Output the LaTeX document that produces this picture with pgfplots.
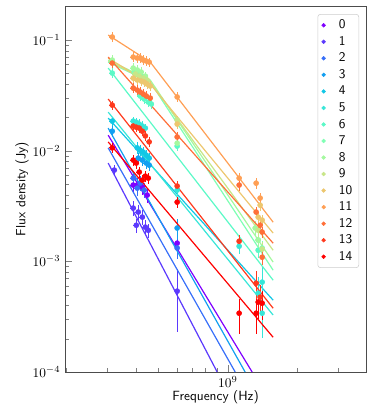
\documentclass[border=0pt]{standalone}
\usepackage{pgfplots}
\pgfplotsset{compat=1.18}

\definecolor{c0}{RGB}{127,0,255}
\definecolor{c1}{RGB}{91,57,253}
\definecolor{c2}{RGB}{55,111,249}
\definecolor{c3}{RGB}{18,159,241}
\definecolor{c4}{RGB}{18,199,230}
\definecolor{c5}{RGB}{55,230,216}
\definecolor{c6}{RGB}{91,249,199}
\definecolor{c7}{RGB}{127,255,180}
\definecolor{c8}{RGB}{164,249,159}
\definecolor{c9}{RGB}{200,230,136}
\definecolor{c10}{RGB}{237,199,111}
\definecolor{c11}{RGB}{255,159,84}
\definecolor{c12}{RGB}{255,111,57}
\definecolor{c13}{RGB}{255,57,29}
\definecolor{c14}{RGB}{255,0,0}
% legend entry: taller row, text moved right
\newcommand{\ls}[1]{\hspace*{8pt}\rule[-2.5pt]{0pt}{9.4pt}#1}

\pgfplotsset{
  pts/.style={only marks, mark=*, mark size=1.9pt, color=#1, forget plot,
    error bars/y dir=both, error bars/y explicit relative,
    error bars/x dir=both, error bars/x explicit relative,
    error bars/error mark=none,
    error bars/error bar style={line width=0.8pt, #1}},
  fit/.style={#1, line width=0.9pt, forget plot},
  dot/.style={only marks, mark=*, mark size=1.4pt, color=#1},
}

\begin{document}
\begin{tikzpicture}
\begin{axis}[
  name=ax, scale only axis, width=225.75pt, height=274.5pt,
  xmode=log, ymode=log,
  xmin=1.97e8, xmax=3.97e9, ymin=1e-4, ymax=0.203,
  xtick={1e9}, minor xtick={2e8,3e8,4e8,5e8,6e8,7e8,8e8,9e8,2e9,3e9},
  xtick pos=bottom, ytick pos=left, tick align=inside,
  major tick length=5pt, minor tick length=3pt,
  axis line style={black!70},
  xlabel={\sffamily Frequency (Hz)}, ylabel={\sffamily Flux density (Jy)},
  xlabel style={at={(axis description cs:0.5,-0.068)}, anchor=center},
  ylabel style={at={(axis description cs:-0.143,0.5)}, anchor=center},
  legend cell align=left,
  legend style={at={(0.977,0.978)}, anchor=north east, draw=black!20,
    rounded corners=2pt, font=\sffamily},
]
% 0
\addplot[pts=c0] coordinates {(3.89e8,0.00489)+-(0.03,0.15) (4.05e8,0.00489)+-(0.03,0.15) (4.26e8,0.00469)+-(0.03,0.15) (4.47e8,0.00397)+-(0.03,0.15) (6.03e8,0.00146)+-(0.02,0.12)};
\addplot[fit=c0] coordinates {(3.03e8,0.0138) (1.274e9,1e-4)};
% 1
\addplot[pts=c1] coordinates {(3.22e8,0.00668)+-(0.03,0.12) (3.89e8,0.00303)+-(0.03,0.15) (4.01e8,0.00212)+-(0.03,0.15) (4.09e8,0.00279)+-(0.03,0.15) (4.26e8,0.00251)+-(0.03,0.15) (4.39e8,0.00204)+-(0.03,0.15) (4.52e8,0.00191)+-(0.03,0.15) (6.03e8,0.000538)+-(0.02,0.57)};
\addplot[fit=c1] coordinates {(3.03e8,0.00773) (8.99e8,1e-4)};
% 2
\addplot[pts=c2] coordinates {(3.89e8,0.00565)+-(0.03,0.15) (4.05e8,0.00459)+-(0.03,0.15) (4.17e8,0.00509)+-(0.03,0.15) (4.34e8,0.00441)+-(0.03,0.15) (6.03e8,0.00132)+-(0.02,0.2)};
\addplot[fit=c2] coordinates {(3.03e8,0.0106) (1.076e9,1e-4)};
% 3
\addplot[pts=c3] coordinates {(3.155e8,0.0150)+-(0.03,0.12) (4.09e8,0.00857)+-(0.03,0.12) (4.26e8,0.00822)+-(0.03,0.12) (4.43e8,0.00773)+-(0.03,0.12) (4.56e8,0.00741)+-(0.03,0.12) (6.03e8,0.0020)+-(0.02,0.2)};
\addplot[fit=c3] coordinates {(3.03e8,0.0160) (1.188e9,1e-4)};
% 4
\addplot[pts=c4] coordinates {(3.155e8,0.0185)+-(0.03,0.1) (4.05e8,0.0106)+-(0.03,0.12) (4.17e8,0.0101)+-(0.03,0.12) (4.30e8,0.00971)+-(0.03,0.12) (4.43e8,0.00912)+-(0.03,0.12) (4.56e8,0.00857)+-(0.03,0.12)};
\addplot[fit=c4] coordinates {(3.03e8,0.0197) (1.571e9,0.000446)};
% 5
\addplot[pts=c5] coordinates {(3.89e8,0.0185)+-(0.03,0.1) (4.01e8,0.0181)+-(0.03,0.1) (4.13e8,0.0174)+-(0.03,0.1) (4.26e8,0.0167)+-(0.03,0.1) (4.39e8,0.0160)+-(0.03,0.1) (6.03e8,0.00441)+-(0.02,0.12) (1.119e9,0.00137)+-(0.02,0.15) (1.353e9,0.000516)+-(0.02,0.4) (1.408e9,0.000649)+-(0.02,0.4) (1.408e9,0.00034)+-(0.02,0.4)};
\addplot[fit=c5] coordinates {(3.03e8,0.0223) (1.571e9,0.000327)};
% 6
\addplot[pts=c6] coordinates {(3.155e8,0.0503)+-(0.03,0.1) (4.17e8,0.0312)+-(0.03,0.1) (4.34e8,0.0293)+-(0.03,0.1) (4.52e8,0.0275)+-(0.03,0.1) (4.66e8,0.0264)+-(0.03,0.1) (6.03e8,0.0110)+-(0.02,0.1) (1.353e9,0.00126)+-(0.02,0.15)};
\addplot[fit=c6] coordinates {(3.03e8,0.0558) (1.571e9,0.000676)};
% 7
\addplot[pts=c7] coordinates {(3.155e8,0.0632)+-(0.03,0.1) (3.93e8,0.0514)+-(0.03,0.1) (4.09e8,0.0483)+-(0.03,0.1) (4.26e8,0.0463)+-(0.03,0.1) (4.43e8,0.0435)+-(0.03,0.1) (1.353e9,0.00156)+-(0.02,0.15) (1.408e9,0.00132)+-(0.02,0.15)};
\addplot[fit=c7] coordinates {(3.03e8,0.0632) (4.61e8,0.0417) (1.571e9,0.000832)};
% 8
\addplot[pts=c8] coordinates {(3.155e8,0.0659)+-(0.03,0.1) (3.89e8,0.0558)+-(0.03,0.1) (4.05e8,0.0536)+-(0.03,0.1) (4.21e8,0.0514)+-(0.03,0.1) (4.39e8,0.0472)+-(0.03,0.1) (6.03e8,0.0117)+-(0.02,0.1) (1.313e9,0.0020)+-(0.02,0.15) (1.353e9,0.00156)+-(0.02,0.15)};
\addplot[fit=c8] coordinates {(3.03e8,0.0659) (4.61e8,0.0435) (1.571e9,0.000984)};
% 9
\addplot[pts=c9] coordinates {(3.97e8,0.0493)+-(0.03,0.1) (4.13e8,0.0472)+-(0.03,0.1) (4.30e8,0.0453)+-(0.03,0.1) (4.47e8,0.0435)+-(0.03,0.1) (6.03e8,0.0189)+-(0.02,0.1) (1.353e9,0.00191)+-(0.02,0.15) (1.408e9,0.00129)+-(0.02,0.15)};
\addplot[fit=c9] coordinates {(3.03e8,0.0646) (4.61e8,0.0417) (1.571e9,0.00126)};
% 10
\addplot[pts=c10] coordinates {(3.89e8,0.0453)+-(0.03,0.1) (4.05e8,0.0435)+-(0.03,0.1) (4.21e8,0.0426)+-(0.03,0.1) (4.34e8,0.0417)+-(0.03,0.1) (4.47e8,0.0400)+-(0.03,0.1) (4.61e8,0.0384)+-(0.03,0.1) (6.03e8,0.0174)+-(0.02,0.1) (1.38e9,0.00322)+-(0.02,0.12) (1.353e9,0.00251)+-(0.02,0.12) (1.408e9,0.00236)+-(0.02,0.12)};
\addplot[fit=c10] coordinates {(3.03e8,0.0687) (4.61e8,0.0400) (1.571e9,0.00180)};
% 11
\addplot[pts=c11] coordinates {(3.155e8,0.1065)+-(0.03,0.1) (3.89e8,0.0702)+-(0.03,0.1) (4.05e8,0.0687)+-(0.03,0.1) (4.17e8,0.0687)+-(0.03,0.1) (4.30e8,0.0659)+-(0.03,0.1) (4.43e8,0.0646)+-(0.03,0.1) (4.56e8,0.0632)+-(0.03,0.1) (6.03e8,0.0306)+-(0.02,0.1) (1.119e9,0.00565)+-(0.02,0.12) (1.326e9,0.00509)+-(0.02,0.12) (1.38e9,0.00373)+-(0.02,0.12)};
\addplot[fit=c11] coordinates {(3.03e8,0.111) (4.61e8,0.0632) (1.571e9,0.00226)};
% 12
\addplot[pts=c12] coordinates {(3.155e8,0.0619)+-(0.03,0.1) (3.89e8,0.0368)+-(0.03,0.1) (4.05e8,0.0353)+-(0.03,0.1) (4.17e8,0.0339)+-(0.03,0.1) (4.30e8,0.0325)+-(0.03,0.1) (4.43e8,0.0312)+-(0.03,0.1) (4.61e8,0.0299)+-(0.03,0.1) (6.03e8,0.0133)+-(0.02,0.1) (1.119e9,0.00489)+-(0.02,0.12) (1.326e9,0.00279)+-(0.02,0.12) (1.38e9,0.00212)+-(0.02,0.12) (1.408e9,0.00184)+-(0.02,0.12) (1.408e9,0.00109)+-(0.02,0.15)};
\addplot[fit=c12] coordinates {(3.03e8,0.0702) (1.571e9,0.00146)};
% 13
\addplot[pts=c13] coordinates {(3.155e8,0.0258)+-(0.03,0.1) (3.89e8,0.0167)+-(0.03,0.1) (4.01e8,0.0163)+-(0.03,0.1) (4.13e8,0.0160)+-(0.03,0.1) (4.26e8,0.0150)+-(0.03,0.1) (4.39e8,0.0136)+-(0.03,0.1) (4.56e8,0.0120)+-(0.03,0.1) (6.03e8,0.00479)+-(0.02,0.12) (1.119e9,0.00152)+-(0.02,0.15) (1.326e9,0.000635)+-(0.02,0.3) (1.38e9,0.000474)+-(0.02,0.3)};
\addplot[fit=c13] coordinates {(3.03e8,0.0293) (1.571e9,0.000377)};
% 14
\addplot[pts=c14] coordinates {(3.155e8,0.0106)+-(0.03,0.1) (3.89e8,0.00822)+-(0.03,0.12) (4.01e8,0.00773)+-(0.03,0.12) (4.13e8,0.00641)+-(0.03,0.12) (4.26e8,0.00542)+-(0.03,0.12) (4.39e8,0.00589)+-(0.03,0.12) (4.52e8,0.00565)+-(0.03,0.12) (6.03e8,0.00343)+-(0.02,0.12) (1.119e9,0.00034)+-(0.02,0.35) (1.326e9,0.00034)+-(0.02,0.35) (1.353e9,0.000428)+-(0.02,0.3) (1.408e9,0.000419)+-(0.02,0.3)};
\addplot[fit=c14] coordinates {(3.03e8,0.0120) (1.571e9,0.000206)};
% legend
\addlegendimage{dot=c0}\addlegendentry{\ls{0}}
\addlegendimage{dot=c1}\addlegendentry{\ls{1}}
\addlegendimage{dot=c2}\addlegendentry{\ls{2}}
\addlegendimage{dot=c3}\addlegendentry{\ls{3}}
\addlegendimage{dot=c4}\addlegendentry{\ls{4}}
\addlegendimage{dot=c5}\addlegendentry{\ls{5}}
\addlegendimage{dot=c6}\addlegendentry{\ls{6}}
\addlegendimage{dot=c7}\addlegendentry{\ls{7}}
\addlegendimage{dot=c8}\addlegendentry{\ls{8}}
\addlegendimage{dot=c9}\addlegendentry{\ls{9}}
\addlegendimage{dot=c10}\addlegendentry{\ls{10}}
\addlegendimage{dot=c11}\addlegendentry{\ls{11}}
\addlegendimage{dot=c12}\addlegendentry{\ls{12}}
\addlegendimage{dot=c13}\addlegendentry{\ls{13}}
\addlegendimage{dot=c14}\addlegendentry{\ls{14}}
\end{axis}
\pgfresetboundingbox
\path ([shift={(-48.75pt,-24.75pt)}]ax.south west) rectangle ([shift={(18.75pt,4.5pt)}]ax.north east);
\end{tikzpicture}
\end{document}
